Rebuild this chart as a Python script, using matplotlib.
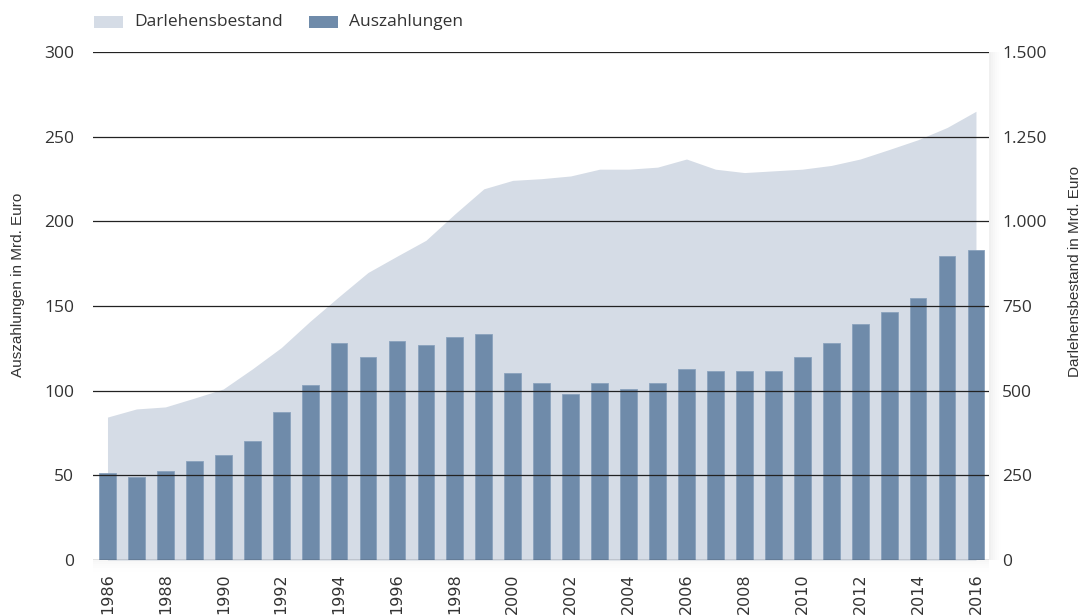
import matplotlib
matplotlib.use("Agg")
import matplotlib.pyplot as plt

years = list(range(1986, 2017))
auszahlungen = [51.5, 49.3, 52.5, 58.4, 61.8, 70.1, 87.5, 103.6, 127.9, 119.8,
                129.1, 126.9, 131.7, 133.7, 110.7, 104.8, 98.0, 104.8, 101.2, 104.8,
                112.9, 111.9, 111.9, 111.9, 120.0, 128.1, 139.6, 146.7, 155.0, 179.4,
                182.8]
darlehensbestand = [422, 446, 452, 478, 505, 564, 627, 705, 778, 849,
                    897, 944, 1022, 1096, 1121, 1126, 1134, 1154, 1154, 1160,
                    1184, 1154, 1144, 1149, 1154, 1165, 1184, 1212, 1241, 1277,
                    1325]
left_ticks = [0, 50, 100, 150, 200, 250, 300]
right_ticks = [0, 250, 500, 750, 1000, 1250, 1500]
right_labels = ["0", "250", "500", "750", "1.000", "1.250", "1.500"]

bar_color = "#6f8baa"
area_color = "#d5dce6"
text_color = "#333333"
W, H = 1090, 616

plt.rcParams["font.family"] = ["Open Sans", "DejaVu Sans"]

fig = plt.figure(figsize=(10.9, 6.16), dpi=100)
ax = fig.add_axes([93 / W, 1 - 560 / H, (989 - 93) / W, (560 - 52) / H])

# soft shadow on the right side and below the plot panel
for i, a in enumerate([0.06, 0.045, 0.03, 0.02, 0.01, 0.005]):
    fig.patches.append(plt.Rectangle(((989 + 2 * i) / W, 1 - 560 / H), 2 / W, 508 / H,
                                     transform=fig.transFigure, color="black",
                                     alpha=a, lw=0, zorder=0))
    fig.patches.append(plt.Rectangle((93 / W, 1 - (562 + 2 * i) / H), 896 / W, 2 / H,
                                     transform=fig.transFigure, color="black",
                                     alpha=a * 0.5, lw=0, zorder=0))

ax2 = ax.twinx()
ax.set_zorder(ax2.get_zorder() + 1)
ax.patch.set_visible(False)
ax2.set_facecolor("#f9f9f9")

ax2.fill_between(years, 0, darlehensbestand, color=area_color, lw=0, zorder=1)
ax2.set_ylim(0, 1500)
ax2.set_yticks(right_ticks)
ax2.set_yticklabels(right_labels)

ax.bar(years, auszahlungen, width=0.58, color=bar_color, edgecolor="#8aa2bd",
       linewidth=0.6, zorder=3)
ax.set_ylim(0, 300)
ax.set_yticks(left_ticks)
ax.set_xlim(1985.5, 2016.45)
ax.set_xticks(years[::2])
ax.set_xticklabels([str(y) for y in years[::2]], rotation=90, va="top",
                   family="DejaVu Sans", fontsize=11.5)

for v in left_ticks:
    ax.axhline(v, color="#222222", lw=0.9, zorder=4)

for a in (ax, ax2):
    for s in a.spines.values():
        s.set_visible(False)
    a.tick_params(length=0, labelsize=12.5, colors=text_color)

ax.tick_params(axis="y", pad=13.5)
ax2.tick_params(axis="y", pad=9.5)
ax.tick_params(axis="x", pad=9.5, labelsize=11.5)

fig.text(18 / W, 1 - 285 / H, "Auszahlungen in Mrd. Euro", rotation=90,
         ha="center", va="center", fontsize=11, color=text_color,
         family=["Liberation Sans", "DejaVu Sans"])
fig.text(1075 / W, 1 - 272 / H, "Darlehensbestand in Mrd. Euro", rotation=90,
         ha="center", va="center", fontsize=11, color=text_color,
         family=["Liberation Sans", "DejaVu Sans"])

# legend
for x0, col, label in [(94, area_color, "Darlehensbestand"), (309, bar_color, "Auszahlungen")]:
    fig.patches.append(plt.Rectangle((x0 / W, 1 - 27.5 / H), 28.5 / W, 12 / H,
                                     transform=fig.transFigure, color=col, lw=0))
    fig.text((x0 + 40) / W, 1 - 21.5 / H, label, ha="left", va="center",
             fontsize=12.5, color=text_color)

fig.savefig("out.png", dpi=100)
